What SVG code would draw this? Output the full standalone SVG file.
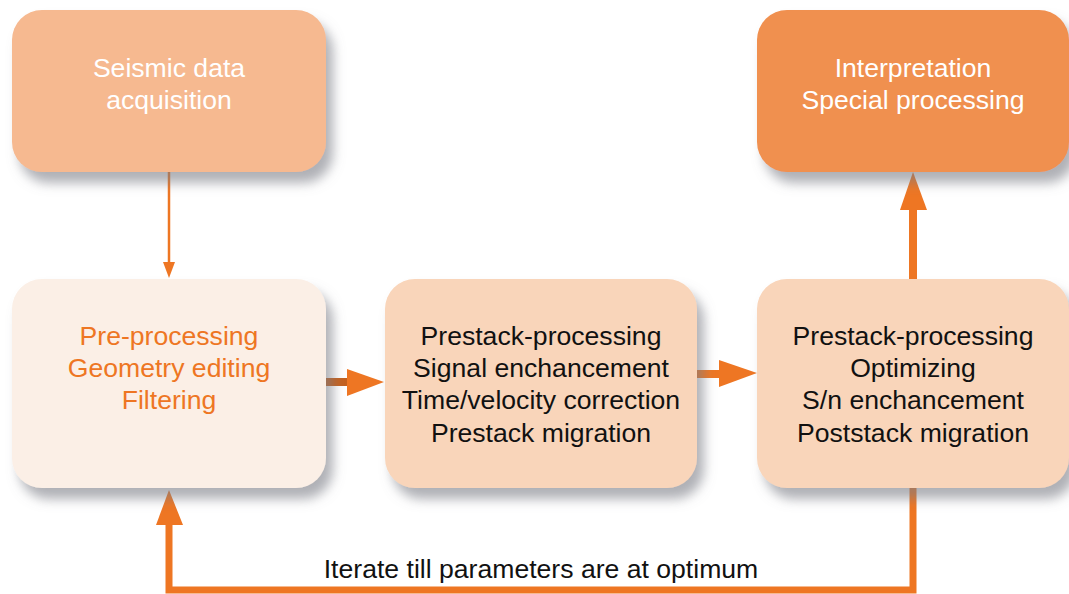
<svg xmlns="http://www.w3.org/2000/svg" width="1069" height="594" viewBox="0 0 1069 594">
<defs>
<filter id="sh" x="-20%" y="-20%" width="150%" height="160%">
<feDropShadow dx="7" dy="11" stdDeviation="6" flood-color="#7a7d85" flood-opacity="0.6"/>
</filter>
</defs>
<style>
text{font-family:"Liberation Sans",Arial,sans-serif;font-size:26.6px;text-anchor:middle}
.w{fill:#ffffff}.o{fill:#EE7623}.k{fill:#111111}
.ln{stroke:#EE7623;fill:none}
.hd{fill:#EE7623}
</style>
<rect width="1069" height="594" fill="#ffffff"/>
<g id="connectors">
<line class="ln" x1="169" y1="172" x2="169" y2="264" stroke-width="2.5"/>
<polygon class="hd" points="163,262 175,262 169,278"/>
<line class="ln" x1="326" y1="382" x2="350" y2="382" stroke-width="8" style="stroke:#C4611F"/>
<polygon class="hd" points="347,369 347,396 384,382"/>
<line class="ln" x1="697" y1="374" x2="722" y2="374" stroke-width="8"/>
<polygon class="hd" points="719,360 719,387 757,373"/>
<line class="ln" x1="913" y1="279" x2="913" y2="206" stroke-width="8"/>
<polygon class="hd" points="900,210 927,210 913,172"/>
<polyline class="ln" points="913,488 913,590 169,590 169,522" stroke-width="7"/>
<polygon class="hd" points="156,525 183,525 169,490"/>
</g>
<g id="n1">
<rect x="12" y="10" width="314" height="162" rx="30" fill="#F6B990" filter="url(#sh)"/>
<text class="w" x="169" y="77">Seismic data</text>
<text class="w" x="169" y="109">acquisition</text>
</g>
<g id="n5">
<rect x="757" y="10" width="312" height="162" rx="30" fill="#F09050" filter="url(#sh)"/>
<text class="w" x="913" y="77">Interpretation</text>
<text class="w" x="913" y="109">Special processing</text>
</g>
<g id="n2">
<rect x="12" y="279" width="314" height="209" rx="30" fill="#FBEFE6" filter="url(#sh)"/>
<text class="o" x="169" y="345">Pre-processing</text>
<text class="o" x="169" y="377">Geometry editing</text>
<text class="o" x="169" y="409">Filtering</text>
</g>
<g id="n3">
<rect x="385" y="279" width="312" height="209" rx="30" fill="#F9D5BA" filter="url(#sh)"/>
<text class="k" x="541" y="345">Prestack-processing</text>
<text class="k" x="541" y="377">Signal enchancement</text>
<text class="k" x="541" y="409">Time/velocity correction</text>
<text class="k" x="541" y="442">Prestack migration</text>
</g>
<g id="n4">
<rect x="757" y="279" width="312" height="209" rx="30" fill="#F9D5BA" filter="url(#sh)"/>
<text class="k" x="913" y="345">Prestack-processing</text>
<text class="k" x="913" y="377">Optimizing</text>
<text class="k" x="913" y="409">S/n enchancement</text>
<text class="k" x="913" y="442">Poststack migration</text>
</g>
<text class="k" x="541" y="578">Iterate till parameters are at optimum</text>
</svg>
